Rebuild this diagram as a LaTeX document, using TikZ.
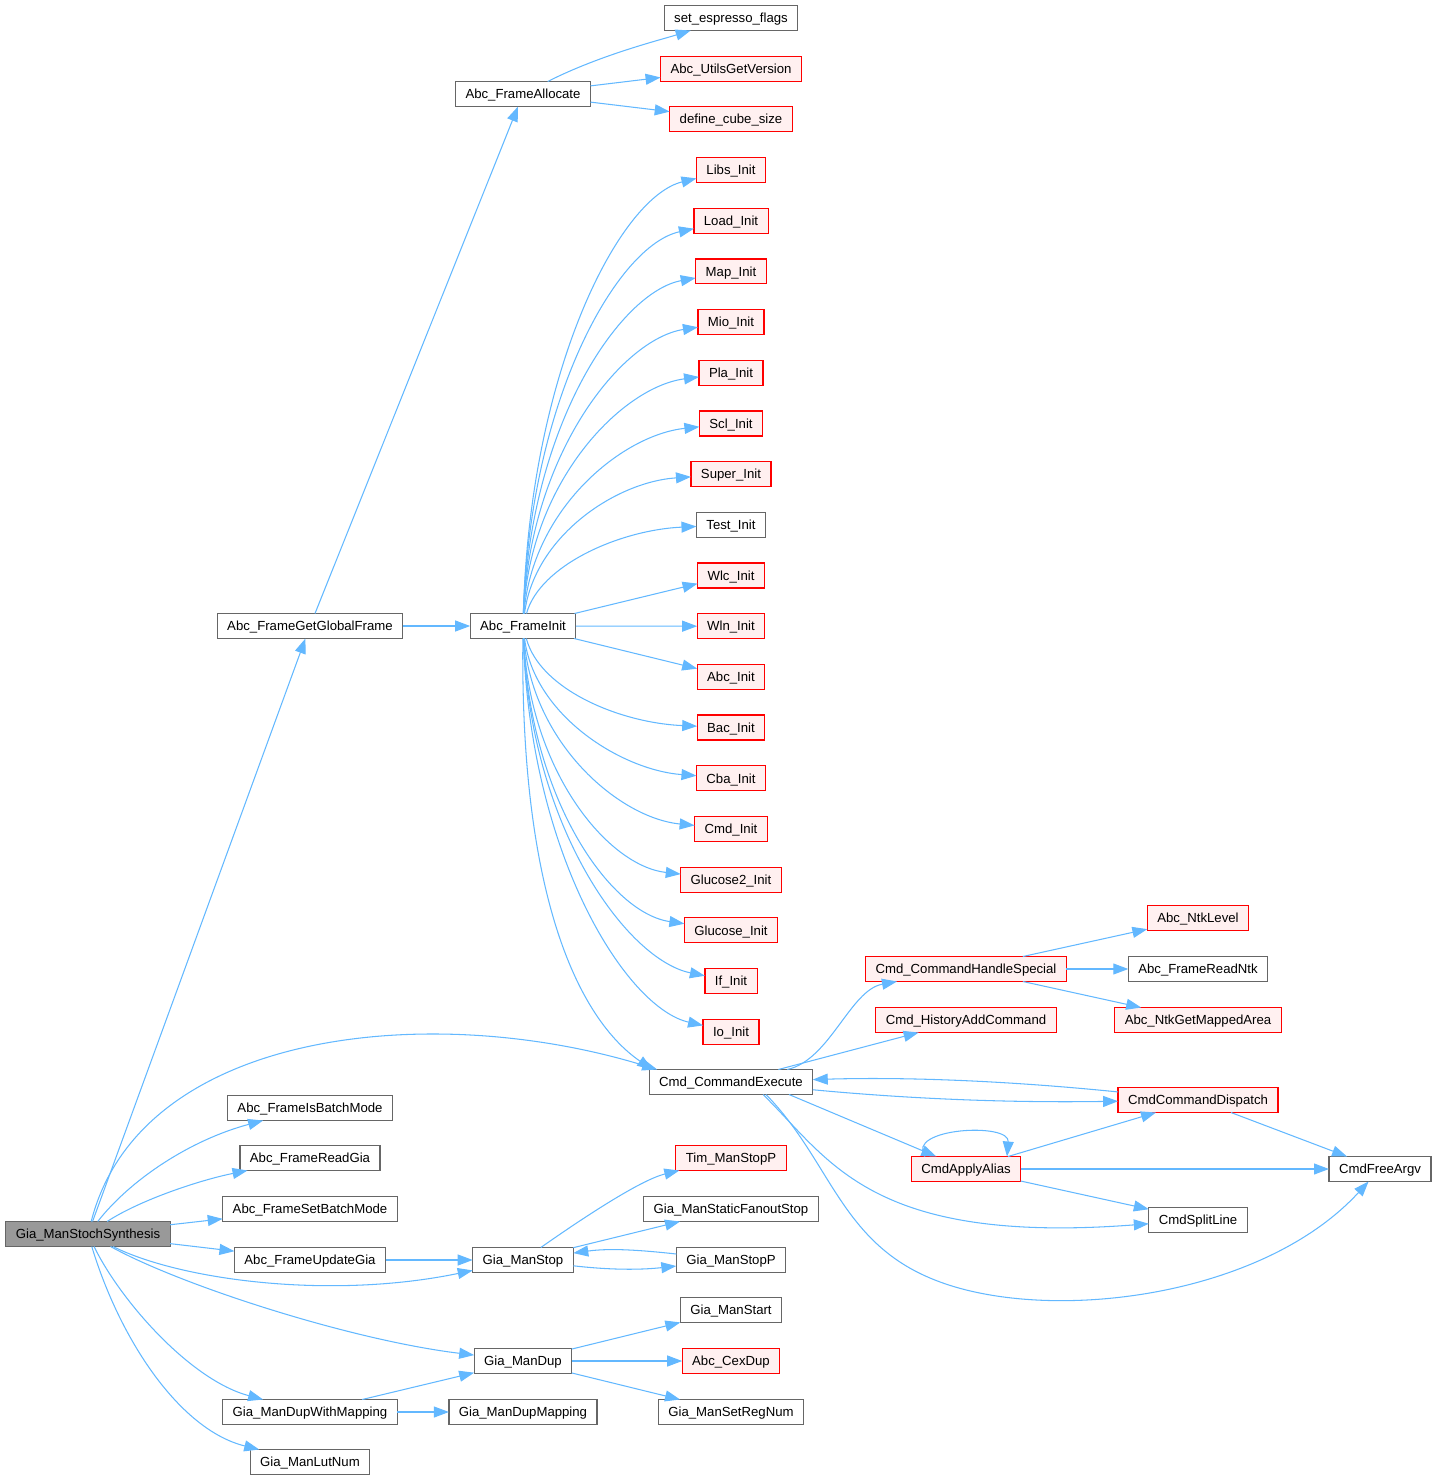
\documentclass[tikz,border=0pt]{standalone}
\usepackage{fontspec}
\setsansfont{Liberation Sans}
\usetikzlibrary{arrows.meta, positioning, calc}
\definecolor{edgeblue}{HTML}{63B8FF}
\definecolor{cutfill}{HTML}{FFF0F0}
\definecolor{boxgray}{HTML}{666666}
\definecolor{rootgray}{HTML}{999999}

\begin{document}
\begin{tikzpicture}[
    x=0.02cm, y=-0.02cm,
    fnbox/.style={draw=boxgray, fill=white, line width=0.7pt, minimum height=0.5cm,
                  inner xsep=0.2cm, inner ysep=0pt, outer sep=0pt,
                  text height=5.4pt, text depth=0pt,
                  font=\sffamily\fontsize{7.5}{9}\selectfont},
    cutbox/.style={fnbox, draw=red, fill=cutfill},
    rootbox/.style={fnbox, fill=rootgray},
    arr/.style={-{Triangle[length=0.3cm,width=0.22cm]}, edgeblue, line width=0.6pt},
]
\useasboundingbox (0,0) rectangle (1437,1481);

\node[rootbox] (stoch) at (88,1234) {Gia\_ManStochSynthesis};
\node[fnbox] (ggf) at (310,626) {Abc\_FrameGetGlobalFrame};
\node[fnbox] (alloc) at (523,94) {Abc\_FrameAllocate};
\node[fnbox] (espr) at (731,18) {set\_espresso\_flags};
\node[cutbox] (ver) at (731,69) {Abc\_UtilsGetVersion};
\node[cutbox] (cube) at (731,119) {define\_cube\_size};

\node[fnbox] (finit) at (523,626) {Abc\_FrameInit};
\node[cutbox] (libs) at (731,170) {Libs\_Init};
\node[cutbox, below=0.514cm of libs] (load) {Load\_Init};
\node[cutbox, below=0.514cm of load] (map) {Map\_Init};
\node[cutbox, below=0.514cm of map] (mio) {Mio\_Init};
\node[cutbox, below=0.514cm of mio] (pla) {Pla\_Init};
\node[cutbox, below=0.514cm of pla] (scl) {Scl\_Init};
\node[cutbox, below=0.514cm of scl] (super) {Super\_Init};
\node[fnbox, below=0.514cm of super] (test) {Test\_Init};
\node[cutbox, below=0.514cm of test] (wlc) {Wlc\_Init};
\node[cutbox, below=0.514cm of wlc] (wln) {Wln\_Init};
\node[cutbox, below=0.514cm of wln] (abc) {Abc\_Init};
\node[cutbox, below=0.514cm of abc] (bac) {Bac\_Init};
\node[cutbox, below=0.514cm of bac] (cba) {Cba\_Init};
\node[cutbox, below=0.514cm of cba] (cmd) {Cmd\_Init};
\node[cutbox, below=0.514cm of cmd] (glu2) {Glucose2\_Init};
\node[cutbox, below=0.514cm of glu2] (glu) {Glucose\_Init};
\node[cutbox, below=0.514cm of glu] (ifi) {If\_Init};
\node[cutbox, below=0.514cm of ifi] (io) {Io\_Init};

\node[fnbox] (cexec) at (731,1082) {Cmd\_CommandExecute};
\node[cutbox] (special) at (966,969) {Cmd\_CommandHandleSpecial};
\node[cutbox] (hist) at (966,1020) {Cmd\_HistoryAddCommand};
\node[cutbox] (level) at (1198,918) {Abc\_NtkLevel};
\node[fnbox] (readntk) at (1198,969) {Abc\_FrameReadNtk};
\node[cutbox] (area) at (1198,1020) {Abc\_NtkGetMappedArea};
\node[cutbox] (dispatch) at (1198,1100) {CmdCommandDispatch};
\node[cutbox] (alias) at (966,1169) {CmdApplyAlias};
\node[fnbox] (freeargv) at (1380,1169) {CmdFreeArgv};
\node[fnbox] (split) at (1198,1220) {CmdSplitLine};

\node[fnbox] (batch) at (310,1108) {Abc\_FrameIsBatchMode};
\node[fnbox] (readgia) at (310,1158) {Abc\_FrameReadGia};
\node[fnbox] (setbatch) at (310,1209) {Abc\_FrameSetBatchMode};
\node[fnbox] (updgia) at (310,1260) {Abc\_FrameUpdateGia};
\node[fnbox] (stop) at (523,1260) {Gia\_ManStop};
\node[cutbox] (timstop) at (731,1158) {Tim\_ManStopP};
\node[fnbox] (fanout) at (731,1209) {Gia\_ManStaticFanoutStop};
\node[fnbox] (stopp) at (731,1260) {Gia\_ManStopP};
\node[fnbox] (dup) at (523,1361) {Gia\_ManDup};
\node[fnbox] (start) at (731,1310) {Gia\_ManStart};
\node[cutbox] (cexdup) at (731,1361) {Abc\_CexDup};
\node[fnbox] (regnum) at (731,1412) {Gia\_ManSetRegNum};
\node[fnbox] (dupmap) at (310,1412) {Gia\_ManDupWithMapping};
\node[fnbox] (mapping) at (523,1412) {Gia\_ManDupMapping};
\node[fnbox] (lutnum) at (310,1462) {Gia\_ManLutNum};

\draw[arr] (stoch) -- (ggf);
\draw[arr] (stoch) .. controls (140,1030) and (430,1000) .. ($(cexec.north west)+(8,0)$);
\draw[arr] (stoch) .. controls (130,1180) and (190,1140) .. (batch);
\draw[arr] (stoch) .. controls (140,1200) and (200,1180) .. (readgia);
\draw[arr] (stoch) -- (setbatch);
\draw[arr] (stoch) -- (updgia);
\draw[arr] (stoch) .. controls (180,1280) and (330,1300) .. (stop);
\draw[arr] (stoch) .. controls (180,1285) and (350,1340) .. (dup);
\draw[arr] (stoch) .. controls (120,1300) and (190,1380) .. (dupmap);
\draw[arr] (stoch) .. controls (120,1340) and (180,1430) .. (lutnum);

\draw[arr] (ggf) -- (alloc);
\draw[arr] (ggf) -- (finit);
\draw[arr] (alloc) .. controls (600,55) and (660,40) .. (espr);
\draw[arr] (alloc) -- (ver);
\draw[arr] (alloc) -- (cube);

\draw[arr] (finit) .. controls (530,369) and (620,197) .. (libs);
\draw[arr] (finit) .. controls (530,397) and (618,245) .. (load);
\draw[arr] (finit) .. controls (530,425) and (620,292) .. (map);
\draw[arr] (finit) .. controls (530,453) and (622,339) .. (mio);
\draw[arr] (finit) .. controls (530,481) and (622,387) .. (pla);
\draw[arr] (finit) .. controls (532,509) and (622,435) .. (scl);
\draw[arr] (finit) .. controls (534,537) and (615,482) .. (super);
\draw[arr] (finit) .. controls (540,565) and (620,530) .. (test);
\draw[arr] (finit) -- (wlc);
\draw[arr] (finit) -- (wln);
\draw[arr] (finit) -- (abc);
\draw[arr] (finit) .. controls (540,690) and (621,723) .. (bac);
\draw[arr] (finit) .. controls (534,715) and (621,770) .. (cba);
\draw[arr] (finit) .. controls (532,743) and (619,818) .. (cmd);
\draw[arr] (finit) .. controls (530,772) and (608,866) .. (glu2);
\draw[arr] (finit) .. controls (530,799) and (610,913) .. (glu);
\draw[arr] (finit) .. controls (530,827) and (627,960) .. (ifi);
\draw[arr] (finit) .. controls (530,855) and (626,1008) .. (io);
\draw[arr] (finit) .. controls (520,900) and (580,1020) .. ($(cexec.north west)+(3,0)$);

\draw[arr] (cexec) .. controls (830,1060) and (850,990) .. (special);
\draw[arr] (cexec) -- (hist);
\draw[arr] (cexec) .. controls (900,1098) and (1000,1103) .. (dispatch);
\draw[arr] (dispatch) .. controls (1000,1080) and (900,1077) .. (cexec);
\draw[arr] ($(cexec.south)+(58,0)$) -- (alias);
\draw[arr] ($(cexec.south)+(32,0)$) .. controls (830,1160) and (870,1245) .. (split);
\draw[arr] ($(cexec.south)+(35,0)$) .. controls (830,1160) and (840,1240) .. (930,1278)
    .. controls (1040,1325) and (1260,1300) .. (freeargv);

\draw[arr] (special) -- (level);
\draw[arr] (special) -- (readntk);
\draw[arr] (special) -- (area);
\draw[arr] ($(alias.north)+(-41,0)$) .. controls (905,1128) and (1010,1122) .. ($(alias.north)+(41,0)$);
\draw[arr] (alias) -- (dispatch);
\draw[arr] (alias) -- (freeargv);
\draw[arr] (alias) -- (split);
\draw[arr] (dispatch) -- (freeargv);

\draw[arr] (updgia) -- (stop);
\draw[arr] (stop) .. controls (580,1220) and (640,1180) .. (timstop);
\draw[arr] (stop) -- (fanout);
\draw[arr] (stop) .. controls (610,1270) and (640,1270) .. (stopp);
\draw[arr] (stopp) .. controls (640,1250) and (610,1248) .. (stop);

\draw[arr] (dupmap) -- (dup);
\draw[arr] (dupmap) -- (mapping);
\draw[arr] (dup) -- (start);
\draw[arr] (dup) -- (cexdup);
\draw[arr] (dup) -- (regnum);
\end{tikzpicture}
\end{document}
